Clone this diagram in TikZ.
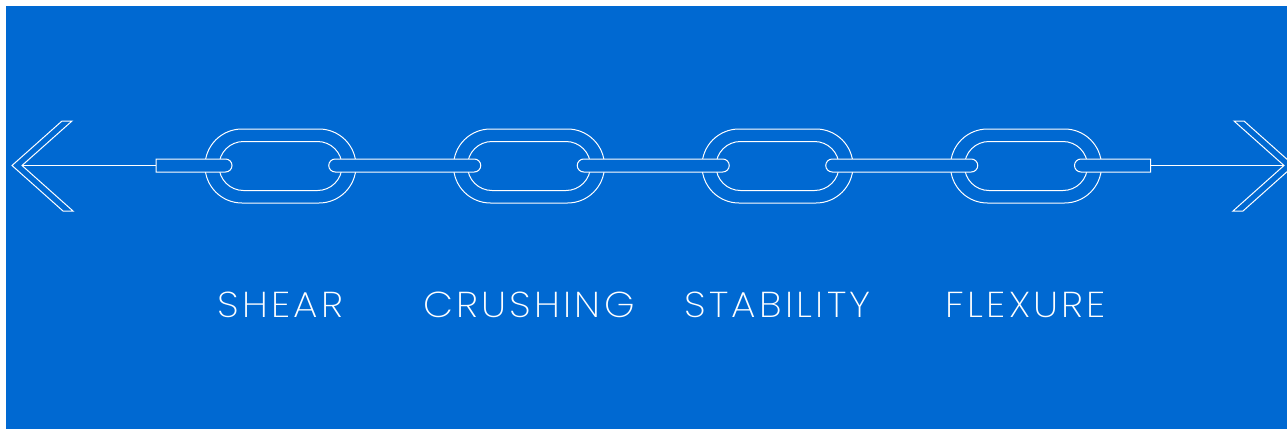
\documentclass[tikz,border=0pt]{standalone}
\usepackage{fontspec}
\newfontfamily\labelfont{Poppins ExtraLight}[LetterSpace=9, FakeStretch=1.08]
\usetikzlibrary{shapes.misc}
\usetikzlibrary{positioning}
\definecolor{chainblue}{RGB}{0,105,210}

\begin{document}
\begin{tikzpicture}[x=0.5pt, y=-0.5pt, line width=0.5pt, every node/.style={draw=white, inner sep=0pt},
 outerlink/.style={rounded rectangle, minimum width=75.5pt, minimum height=37pt},
 innerlink/.style={rounded rectangle, minimum width=61.5pt, minimum height=24.5pt},
 rod/.style={rounded rectangle, fill=chainblue, minimum width=76pt, minimum height=6.5pt},
 endrod/.style={rod, minimum width=38pt},
 chainlabel/.style={draw=none, text=white, font=\labelfont\fontsize{18}{18}\selectfont}
]
% sheet
\fill[white] (0,0) rectangle (1287,429);
\fill[chainblue] (6,6) rectangle (1287,429);
\useasboundingbox (0,0) rectangle (1287,429);
\clip (0,0) rectangle (1287,429);

% links
\foreach \i/\x in {1/280.5, 2/529, 3/777.5, 4/1026} {
 \node[outerlink] (link\i) at (\x,166) {};
 \node[innerlink] (hole\i) at (\x,166) {};
}
% bars between the links
\foreach \i/\x in {1/404.75, 2/653.25, 3/901.75}
 \node[rod] (rod\i) at (\x,165.5) {};
\node[endrod, rounded rectangle left arc=none] (rodL) at (194,165.5) {};
\node[endrod, rounded rectangle right arc=none] (rodR) at (1112.5,165.5) {};

% arrow heads
\coordinate (tipL) at (22,165.5);
\coordinate (tipR) at (1284,165.5);
\draw[white] (12,165.5) -- (62,121) -- (72,121) -- (tipL) -- (73,211) -- (63,211) -- cycle;
\draw[white] (1294,165.5) -- (1244,121) -- (1234,121) -- (tipR) -- (1233,211) -- (1243,211) -- cycle;
\draw[white] (tipL) -- (rodL.west);
\draw[white] (rodR.east) -- (tipR);

% names
\foreach \i/\t in {1/SHEAR, 2/CRUSHING, 3/STABILITY, 4/FLEXURE}
 \node[chainlabel] (label\i) at (link\i.center |- 0,304.5) {\t};
\end{tikzpicture}
\end{document}
